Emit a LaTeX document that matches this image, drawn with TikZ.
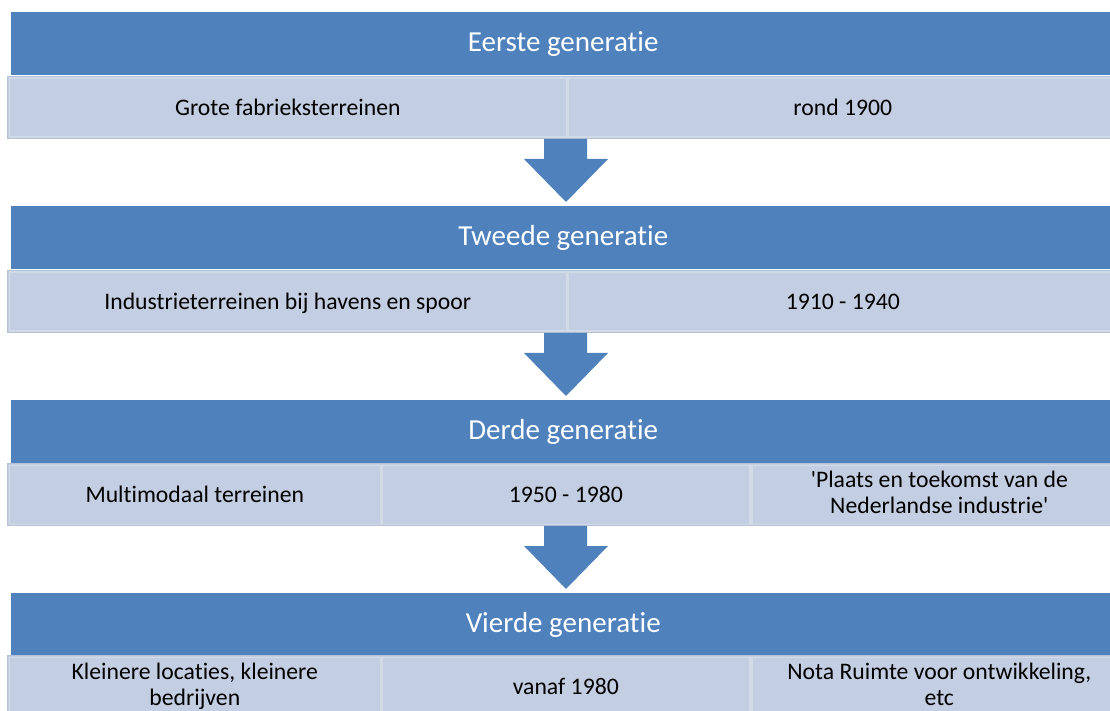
\documentclass[tikz,border=0pt]{standalone}
\usepackage{fontspec}
\setmainfont{Carlito}[Ligatures={TeXOff,NoCommon}]
\usetikzlibrary{calc}
\definecolor{headblue}{HTML}{4F81BD}
\definecolor{cellfill}{HTML}{C3CEE2}
\definecolor{cellline}{HTML}{D2DAE8}
\definecolor{rowedge}{HTML}{B4C1D7}

% invisible rule that keeps cell texts on a common baseline
\newcommand\cellstrut{\rule[-6pt]{0pt}{27.2pt}}

% block arrow from the bottom of one row to the top of the next header
\newcommand\blockarrow[2]{%
  \fill[headblue] let \p1=(#1.south), \p2=(#2.north) in
    (544,\y1) -- (544,\y2+47) -- (524,\y2+47) -- (566,\y2+4)
    -- (608,\y2+47) -- (587,\y2+47) -- (587,\y1) -- cycle;}

\begin{document}
\begin{tikzpicture}[x=1pt,y=1pt,
  header/.style={rectangle, fill=headblue, text=white, inner sep=0pt,
    anchor=north west, minimum height=63pt, minimum width=1104pt,
    font=\fontsize{29}{34}\selectfont},
  rowbox/.style={rectangle, fill=cellfill, draw=rowedge, line width=0.8pt,
    inner sep=0pt, anchor=north west, minimum height=62pt, minimum width=1110pt},
  cell/.style={rectangle, fill=cellfill, draw=cellline, line width=1.6pt,
    inner sep=0pt, anchor=north west, minimum height=59pt, align=center,
    font=\fontsize{23.7}{26}\selectfont,
    execute at begin node=\cellstrut, execute at end node=\cellstrut}]
\useasboundingbox (0,0) rectangle (1110,710);

% first generation
\node[header] (h1) at (11,698) {Eerste generatie};
\node[rowbox] (r1) at (7,634) {};
\node[cell, minimum width=557pt] (c11) at (8.5,632.5) {Grote fabrieksterreinen};
\node[cell, minimum width=550pt] (c12) at (567,632.5) {rond 1900};

% second generation
\node[header] (h2) at (11,504) {Tweede generatie};
\node[rowbox] (r2) at (7,440) {};
\node[cell, minimum width=557pt] (c21) at (8.5,438.5) {Industrieterreinen bij havens en spoor};
\node[cell, minimum width=550pt] (c22) at (567,438.5) {1910 - 1940};

% third generation
\node[header] (h3) at (11,310) {Derde generatie};
\node[rowbox] (r3) at (7,247) {};
\node[cell, minimum width=371pt] (c31) at (8.5,245.5) {Multimodaal terreinen};
\node[cell, minimum width=368pt] (c32) at (381,245.5) {1950 - 1980};
\node[cell, minimum width=375pt] (c33) at (751,245.5) {'Plaats en toekomst van de\\Nederlandse industrie'};

% fourth generation
\node[header] (h4) at (11,117) {Vierde generatie};
\node[rowbox] (r4) at (7,55) {};
\node[cell, minimum width=371pt] (c41) at (8.5,53.5) {Kleinere locaties, kleinere\\bedrijven};
\node[cell, minimum width=368pt] (c42) at (381,53.5) {vanaf 1980};
\node[cell, minimum width=375pt] (c43) at (751,53.5) {Nota Ruimte voor ontwikkeling,\\etc};

% arrows between the generations
\blockarrow{r1}{h2}
\blockarrow{r2}{h3}
\blockarrow{r3}{h4}
\end{tikzpicture}
\end{document}
